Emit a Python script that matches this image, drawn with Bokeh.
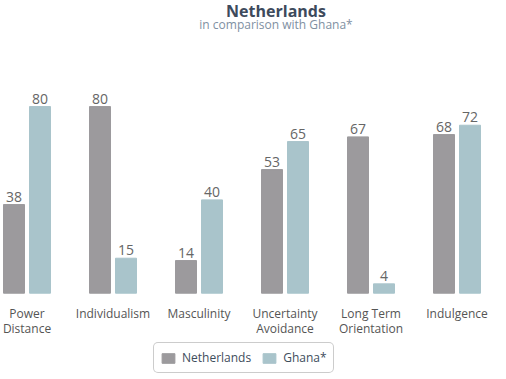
from bokeh.plotting import figure
from bokeh.models import ColumnDataSource, Label, Legend, LegendItem, Range1d
from bokeh.transform import dodge
from bokeh.embed import file_html
from bokeh.resources import INLINE
from bokeh.core.properties import value

title = "Netherlands"
subtitle = "in comparison with Ghana*"
categories = ["Power Distance", "Individualism", "Masculinity",
              "Uncertainty Avoidance", "Long Term Orientation", "Indulgence"]
tick_labels = ["Power\nDistance", "Individualism", "Masculinity",
               "Uncertainty\nAvoidance", "Long Term\nOrientation", "Indulgence"]
netherlands = [38, 80, 14, 53, 67, 68]
ghana = [80, 15, 40, 65, 4, 72]
series_names = ["Netherlands", "Ghana*"]
colors = ["#9c9a9d", "#a9c4cb"]

FONT = "Open Sans"
idx = list(range(len(categories)))
src = ColumnDataSource(dict(
    x=idx, nl=netherlands, gh=ghana, lab=tick_labels, zero=[0] * len(idx),
    nl_txt=[str(v) for v in netherlands], gh_txt=[str(v) for v in ghana],
))

W, H = 506, 379
CAT_PX = 86.0      # pixels per category
X0_PX = 26.5       # pixel of first category centre
BASE_PX = 292.7    # pixel of baseline
PXU = 2.333        # pixels per value unit
OFF = 13 / CAT_PX
BW = 21 / CAT_PX

p = figure(width=W, height=H,
           x_range=Range1d(-X0_PX / CAT_PX, (W - X0_PX) / CAT_PX),
           y_range=Range1d(-(H - BASE_PX) / PXU, BASE_PX / PXU),
           output_backend="svg", toolbar_location=None,
           min_border_left=0, min_border_right=0, min_border_top=0, min_border_bottom=0)
p.outline_line_color = None
p.grid.visible = False
p.axis.visible = False
p.background_fill_color = "white"

r1 = p.vbar(x=dodge("x", -OFF), top="nl", width=BW, source=src, color=colors[0])
r2 = p.vbar(x=dodge("x", OFF), top="gh", width=BW, source=src, color=colors[1])

for fld, txt, sgn in (("nl", "nl_txt", -1), ("gh", "gh_txt", 1)):
    p.text(x=dodge("x", sgn * OFF), y=fld, text=txt, source=src,
           text_align="center", text_baseline="bottom", y_offset=-3,
           text_font=value(FONT), text_font_size="14px", text_color="#666666")

# category labels
p.text(x="x", y="zero", text="lab", source=src, y_offset=12,
       text_align="center", text_baseline="top", text_line_height=0.9,
       text_font=value(FONT), text_font_size="12px", text_color="#555555")

p.add_layout(Label(x=275.5, y=H - 10, x_units="screen", y_units="screen", text=title,
                   text_align="center", text_baseline="alphabetic",
                   text_font=FONT, text_font_size="16px", text_font_style="bold",
                   text_color="#3d4a5c"))
p.add_layout(Label(x=275.5, y=H - 24, x_units="screen", y_units="screen", text=subtitle,
                   text_align="center", text_baseline="alphabetic",
                   text_font=FONT, text_font_size="12px",
                   text_color="#8090a2"))

legend = Legend(items=[LegendItem(label=series_names[0], renderers=[r1]),
                       LegendItem(label=series_names[1], renderers=[r2])],
                orientation="horizontal", location=(153, 6),
                label_text_font=FONT, label_text_font_size="12px", label_text_color="#3e4d5c",
                glyph_width=16, glyph_height=12, label_height=14,
                spacing=10, padding=6, margin=0,
                border_line_color="#999999", border_radius=5,
                label_standoff=6)
p.add_layout(legend, "center")

open("out.html", "w").write(file_html(p, INLINE))
